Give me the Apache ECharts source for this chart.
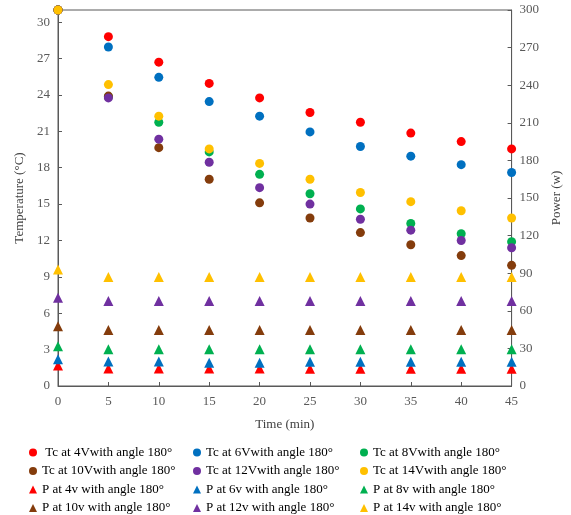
<!DOCTYPE html>
<html>
<head>
<meta charset="utf-8">
<script src="https://cdn.jsdelivr.net/npm/echarts@6/dist/echarts.min.js"></script>
<style>
  html, body { margin: 0; padding: 0; background: #fff; }
  #chart { width: 571px; height: 515px; }
</style>
</head>
<body>
<div id="chart"></div>
<script>
const times = [0, 5, 10, 15, 20, 25, 30, 35, 40, 45];

// cell temperature (°C), left axis
const tc4 = [31, 28.8, 26.7, 24.95, 23.75, 22.55, 21.75, 20.85, 20.15, 19.55];
const tc6 = [31, 27.95, 25.45, 23.45, 22.25, 20.95, 19.75, 18.95, 18.25, 17.6];
const tc8 = [31, 23.85, 21.75, 19.3, 17.45, 15.85, 14.6, 13.4, 12.55, 11.9];
const tc10 = [31, 23.9, 19.65, 17.05, 15.1, 13.85, 12.65, 11.65, 10.75, 9.95];
const tc12 = [31, 23.75, 20.35, 18.45, 16.35, 15.0, 13.75, 12.85, 12.0, 11.4];
const tc14 = [31, 24.85, 22.25, 19.55, 18.35, 17.05, 15.95, 15.2, 14.45, 13.85];

// power (w), right axis
const p4 = [16.3, 13.9, 13.9, 13.9, 13.9, 13.8, 13.8, 13.8, 13.8, 13.8];
const p6 = [21.3, 19.5, 19.5, 18.5, 18.5, 19.3, 19.3, 19.3, 19.3, 19.3];
const p8 = [31.7, 29.4, 29.4, 29.4, 29.4, 29.4, 29.4, 29.4, 29.4, 29.4];
const p10 = [47.6, 44.7, 44.7, 44.7, 44.7, 44.7, 44.7, 44.7, 44.7, 44.7];
const p12 = [70.5, 67.8, 67.8, 67.8, 67.8, 67.8, 67.8, 67.8, 67.8, 67.8];
const p14 = [92.9, 87.0, 87.0, 87.0, 87.0, 87.0, 87.0, 87.0, 87.0, 87.0];

const colors = ['#FF0000', '#0070C0', '#00B050', '#843C0C', '#7030A0', '#FFC000'];
const tcNames = [' Tc at 4Vwith angle 180°', 'Tc at 6Vwith angle 180°', 'Tc at 8Vwith angle 180°',
  'Tc at 10Vwith angle 180°', 'Tc at 12Vwith angle 180°', 'Tc at 14Vwith angle 180°'];
const pNames = ['P at 4v with angle 180°', 'P at 6v with angle 180°', 'P at 8v with angle 180°',
  'P at 10v with angle 180°', 'P at 12v with angle 180°', 'P at 14v with angle 180°'];

const tcData = [tc4, tc6, tc8, tc10, tc12, tc14];
const pData = [p4, p6, p8, p10, p12, p14];

const font = 'Liberation Serif';
const axisColor = '#595959';

const series = [];
tcData.forEach((vals, i) => {
  series.push({
    name: tcNames[i], type: 'scatter', yAxisIndex: 0, symbol: 'circle', symbolSize: 9,
    clip: false, itemStyle: { color: colors[i], opacity: 1 },
    data: vals.map((v, k) => [times[k], v])
  });
});
pData.forEach((vals, i) => {
  series.push({
    name: pNames[i], type: 'scatter', yAxisIndex: 1, symbol: 'triangle', symbolSize: 10,
    clip: false, itemStyle: { color: colors[i], opacity: 1 },
    data: vals.map((v, k) => [times[k], v])
  });
});

const allNames = tcNames.concat(pNames);
const legendCol = (col, left) => ({
  orient: 'vertical', left: left, top: 441, height: 120,
  itemWidth: 8, itemHeight: 8, itemGap: 5.5,
  textStyle: { fontFamily: font, fontSize: 13, color: '#000' },
  data: allNames.filter((_, k) => k % 3 === col).map((n) => ({
    name: n, icon: n.startsWith('P') ? 'triangle' : 'circle'
  }))
});

const chart = echarts.init(document.getElementById('chart'));
chart.setOption({
  animation: false,
  backgroundColor: '#fff',
  grid: { left: 58, right: 57, top: 10, bottom: 129, show: true, borderColor: axisColor, borderWidth: 1 },
  legend: [legendCol(0, 24), legendCol(1, 188), legendCol(2, 355)],
  xAxis: {
    type: 'value', min: 0, max: 45, interval: 5,
    name: 'Time (min)', nameLocation: 'middle', nameGap: 32,
    nameTextStyle: { fontFamily: font, fontSize: 13, color: '#404040' },
    axisLine: { lineStyle: { color: axisColor } },
    axisTick: { inside: true, length: 4, lineStyle: { color: axisColor } },
    axisLabel: { fontFamily: font, fontSize: 13, color: '#595959', margin: 9 },
    splitLine: { show: false }
  },
  yAxis: [{
    type: 'value', min: 0, max: 31, interval: 3,
    name: 'Temperature (°C)', nameLocation: 'middle', nameGap: 31,
    nameTextStyle: { fontFamily: font, fontSize: 13, color: '#404040' },
    axisLine: { show: true, lineStyle: { color: axisColor } },
    axisTick: { show: true, inside: true, length: 4, lineStyle: { color: axisColor } },
    axisLabel: { fontFamily: font, fontSize: 13, color: '#595959', margin: 8,
      formatter: (v) => (v % 3 === 0 ? v : '') },
    splitLine: { show: false }
  }, {
    type: 'value', min: 0, max: 300, interval: 30, position: 'right',
    name: 'Power (w)', nameLocation: 'middle', nameGap: 37,
    nameTextStyle: { fontFamily: font, fontSize: 13, color: '#404040' },
    axisLine: { show: true, lineStyle: { color: axisColor } },
    axisTick: { show: true, inside: true, length: 4, lineStyle: { color: axisColor } },
    axisLabel: { fontFamily: font, fontSize: 13, color: '#595959', margin: 8 },
    splitLine: { show: false }
  }],
  series: series
});
</script>
</body>
</html>
